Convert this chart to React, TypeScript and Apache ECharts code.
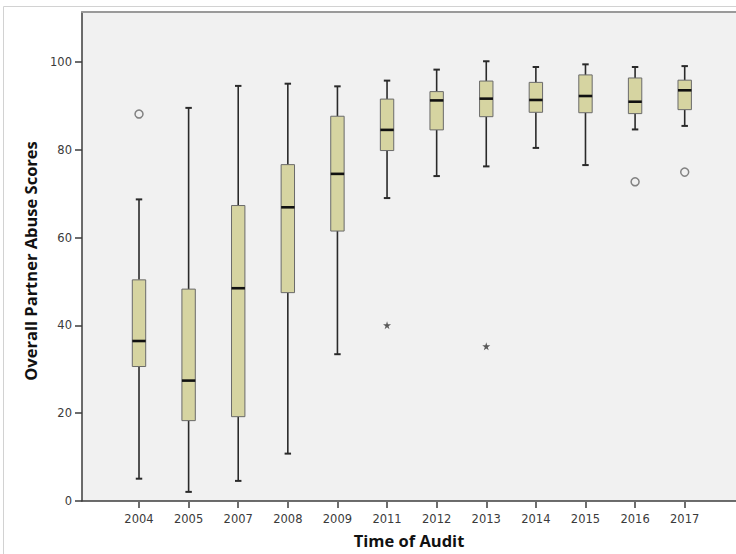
import React, { useEffect, useRef } from "react";
import * as echarts from "echarts";

const years = ["2004", "2005", "2007", "2008", "2009", "2011", "2012", "2013", "2014", "2015", "2016", "2017"];
const lowWhisker = [5.3, 2.3, 4.8, 11.0, 33.6, 69.1, 74.1, 76.3, 80.5, 76.6, 84.7, 85.5];
const q1 = [30.8, 18.5, 19.4, 47.6, 61.6, 79.9, 84.6, 87.6, 88.6, 88.5, 88.3, 89.2];
const median = [36.6, 27.6, 48.6, 67.0, 74.6, 84.6, 91.3, 91.7, 91.4, 92.3, 91.0, 93.6];
const q3 = [50.5, 48.4, 67.4, 76.7, 87.7, 91.6, 93.3, 95.7, 95.4, 97.1, 96.4, 95.9];
const highWhisker = [68.8, 89.6, 94.6, 95.1, 94.5, 95.8, 98.3, 100.2, 98.9, 99.5, 98.9, 99.1];
const circleOutliers: [string, number][] = [["2004", 88.2], ["2016", 72.8], ["2017", 75.0]];
const starOutliers: [string, number][] = [["2011", 40.2], ["2013", 35.4]];
const yTicks = [0, 20, 40, 60, 80, 100];

const STAR = "path://M50,0 L61,35 L98,35 L68,57 L79,91 L50,70 L21,91 L32,57 L2,35 L39,35 Z";

export default function App() {
  const ref = useRef<HTMLDivElement>(null);
  useEffect(() => {
    if (!ref.current) return;
    const chart = echarts.init(ref.current, undefined, { renderer: "svg" });
    const boxData = years.map((_, i) => [i, lowWhisker[i], q1[i], median[i], q3[i], highWhisker[i]]);
    const labelColor = "#3a3a3a";
    const axisColor = "#3c3c3c";
    const font = "DejaVu Sans";
    const titleFont = "Open Sans";
    chart.setOption({
      animation: false,
      backgroundColor: "#ffffff",
      graphic: [
        {
          type: "rect",
          z: -10,
          shape: { x: 3.5, y: 6.5, width: 800, height: 800 },
          style: { fill: "none", stroke: "#d2d2d2", lineWidth: 1 },
        },
      ],
      grid: [
        { left: 82, top: 12, width: 660, height: 490, show: true, backgroundColor: "#f1f1f1", borderWidth: 0 },
        { left: 114.2, top: 12, width: 595.3, height: 490 },
      ],
      xAxis: [
        {
          gridIndex: 0,
          type: "value",
          min: 0,
          max: 1,
          position: "bottom",
          axisLine: { show: true, lineStyle: { color: axisColor, width: 1.5 } },
          axisTick: { show: false },
          axisLabel: { show: false },
          splitLine: { show: false },
          name: "Time of Audit",
          nameLocation: "middle",
          nameGap: 31,
          nameTextStyle: { fontFamily: titleFont, fontWeight: "bold", fontSize: 16.5, color: "#111" },
        },
        {
          gridIndex: 0,
          type: "value",
          min: 0,
          max: 1,
          position: "top",
          axisLine: { show: true, lineStyle: { color: "#9a9a9a", width: 2 } },
          axisTick: { show: false },
          axisLabel: { show: false },
          splitLine: { show: false },
        },
        {
          gridIndex: 1,
          type: "category",
          data: years,
          boundaryGap: true,
          axisLine: { show: false },
          axisTick: { show: true, alignWithLabel: true, length: 6, lineStyle: { color: axisColor, width: 1.5 } },
          axisLabel: { color: labelColor, fontFamily: font, fontSize: 11.5, margin: 11 },
          splitLine: { show: false },
        },
      ],
      yAxis: [
        {
          gridIndex: 0,
          type: "value",
          min: 0,
          max: 111.4,
          interval: 20,
          axisLine: { show: true, lineStyle: { color: axisColor, width: 1.5 } },
          axisTick: { show: true, length: 7, customValues: yTicks, lineStyle: { color: axisColor, width: 1.5 } },
          axisLabel: { color: labelColor, fontFamily: font, fontSize: 11.5, margin: 10, customValues: yTicks },
          splitLine: { show: false },
          name: "Overall Partner Abuse Scores",
          nameLocation: "middle",
          nameGap: 42,
          nameTextStyle: {
            fontFamily: titleFont,
            fontWeight: "bold",
            fontSize: 16.5,
            color: "#111",
            padding: [0, 9, 0, 0],
          },
        },
        { gridIndex: 1, type: "value", min: 0, max: 111.4, show: false },
      ],
      series: [
        {
          type: "custom",
          xAxisIndex: 2,
          yAxisIndex: 1,
          data: boxData,
          encode: { x: 0, y: [1, 2, 3, 4, 5] },
          renderItem: (params: any, api: any) => {
            const idx = api.value(0);
            const lo = api.coord([idx, api.value(1)]);
            const b1 = api.coord([idx, api.value(2)]);
            const md = api.coord([idx, api.value(3)]);
            const b3 = api.coord([idx, api.value(4)]);
            const hi = api.coord([idx, api.value(5)]);
            const band = api.size([1, 0])[0];
            const bw = band * 0.27;
            const cw = band * 0.13;
            const x = lo[0];
            const wStyle = { stroke: "#2a2a2a", lineWidth: 1.6 };
            const cStyle = { stroke: "#2a2a2a", lineWidth: 2 };
            return {
              type: "group",
              children: [
                { type: "line", shape: { x1: x, y1: hi[1], x2: x, y2: b3[1] }, style: wStyle },
                { type: "line", shape: { x1: x, y1: b1[1], x2: x, y2: lo[1] }, style: wStyle },
                { type: "line", shape: { x1: x - cw / 2, y1: hi[1], x2: x + cw / 2, y2: hi[1] }, style: cStyle },
                { type: "line", shape: { x1: x - cw / 2, y1: lo[1], x2: x + cw / 2, y2: lo[1] }, style: cStyle },
                {
                  type: "rect",
                  shape: { x: x - bw / 2, y: b3[1], width: bw, height: b1[1] - b3[1] },
                  style: { fill: "#d6d4a1", stroke: "#6a6a6a", lineWidth: 1 },
                },
                {
                  type: "line",
                  shape: { x1: x - bw / 2, y1: md[1], x2: x + bw / 2, y2: md[1] },
                  style: { stroke: "#111111", lineWidth: 2.6 },
                },
              ],
            };
          },
        },
        {
          type: "scatter",
          xAxisIndex: 2,
          yAxisIndex: 1,
          symbol: "circle",
          symbolSize: 8,
          itemStyle: { color: "rgba(0,0,0,0)", borderColor: "#666666", borderWidth: 1.5 },
          data: circleOutliers.map(([y, v]) => [years.indexOf(y), v]),
        },
        {
          type: "scatter",
          xAxisIndex: 2,
          yAxisIndex: 1,
          symbol: STAR,
          symbolSize: 8,
          itemStyle: { color: "#333333" },
          data: starOutliers.map(([y, v]) => [years.indexOf(y), v]),
        },
      ],
    });
    return () => chart.dispose();
  }, []);
  return (
    <div
      ref={ref}
      style={{ position: "fixed", left: 0, top: 0, width: 736, height: 554 }}
    />
  );
}
